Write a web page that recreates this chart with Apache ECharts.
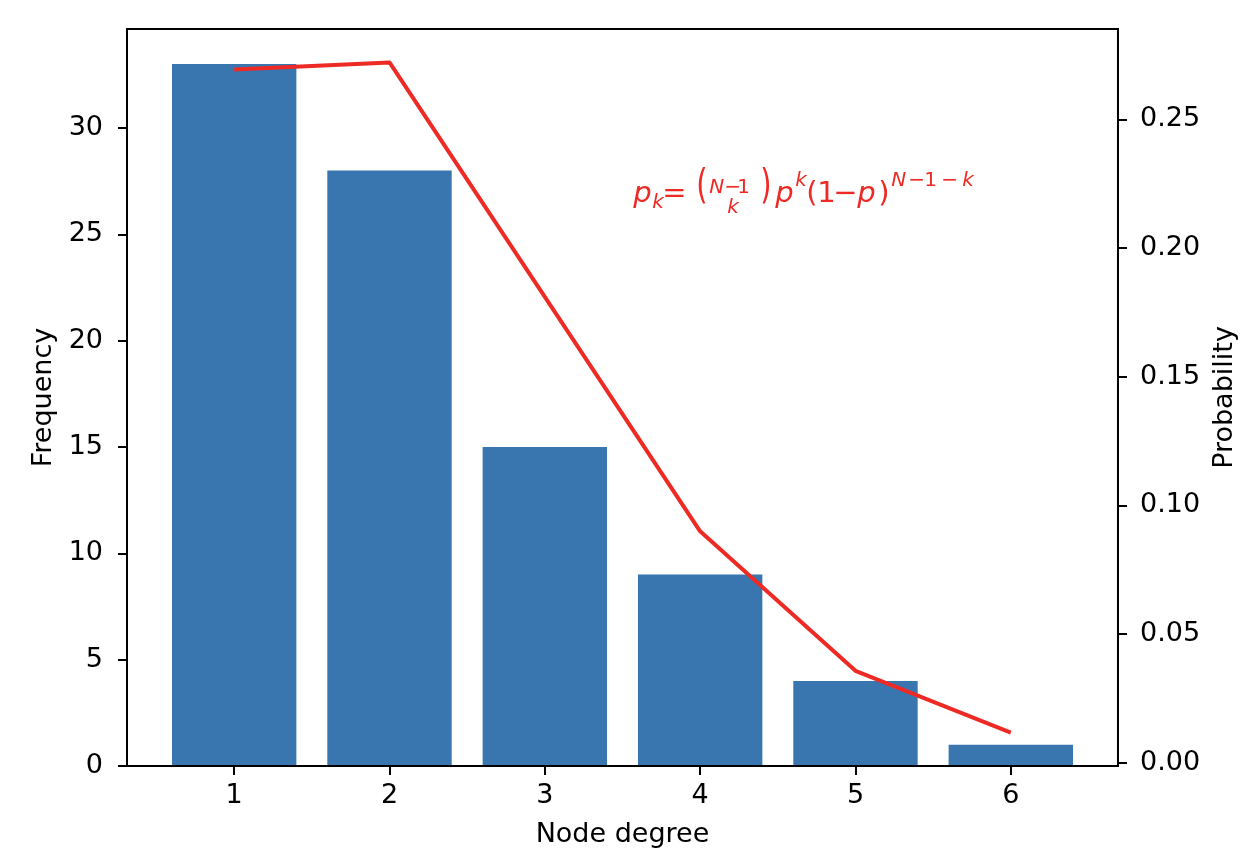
<!DOCTYPE html>
<html>
<head>
<meta charset="utf-8">
<script src="https://cdn.jsdelivr.net/npm/echarts@6.0.0/dist/echarts.min.js"></script>
<style>
  html, body { margin: 0; padding: 0; background: #fff; }
  #main { width: 1246px; height: 864px; }
</style>
</head>
<body>
<div id="main"></div>
<script>
// values
const degrees = [1, 2, 3, 4, 5, 6];
const frequency = [33, 28, 15, 9, 4, 1];
const probability = [0.2694, 0.2721, 0.181, 0.0899, 0.0357, 0.0117];
const degreeTicks = [1, 2, 3, 4, 5, 6];
const freqTicks = [0, 5, 10, 15, 20, 25, 30];
const probTicks = [0, 0.05, 0.10, 0.15, 0.20, 0.25];

const FONT = 'DejaVu Sans';
const BAR = '#3976af';
const RED = '#ee2a25';
const gridLeft = 127, gridRight = 127, gridTop = 29, gridBottom = 98;
const xMin = 0.31, xMax = 6.69;
const gridW = 1246 - gridLeft - gridRight;

const chart = echarts.init(document.getElementById('main'));

const tickStyle = { show: true, length: 9, lineStyle: { color: '#000', width: 2 } };
const labelStyle = { color: '#000', fontSize: 27, fontFamily: FONT };
const nameStyle = { color: '#000', fontSize: 27, fontFamily: FONT };

chart.setOption({
  animation: false,
  backgroundColor: '#fff',
  grid: {
    left: gridLeft, right: gridRight, top: gridTop, bottom: gridBottom,
    show: true, borderColor: '#000', borderWidth: 2, backgroundColor: 'transparent'
  },
  xAxis: {
    type: 'value', min: xMin, max: xMax, z: 5,
    name: 'Node degree', nameLocation: 'middle', nameGap: 55, nameTextStyle: nameStyle,
    axisLine: { show: true, lineStyle: { color: '#000', width: 2 } },
    axisTick: Object.assign({ customValues: degreeTicks }, tickStyle),
    axisLabel: Object.assign({ customValues: degreeTicks, margin: 16 }, labelStyle),
    splitLine: { show: false }
  },
  yAxis: [{
    type: 'value', min: 0, max: 34.65, position: 'left', z: 5,
    name: 'Frequency', nameLocation: 'middle', nameGap: 67, nameTextStyle: nameStyle,
    axisLine: { show: true, lineStyle: { color: '#000', width: 2 } },
    axisTick: Object.assign({ customValues: freqTicks }, tickStyle),
    axisLabel: Object.assign({ customValues: freqTicks, margin: 24 }, labelStyle),
    splitLine: { show: false }
  }, {
    type: 'value', min: -0.0013, max: 0.2851, position: 'right', z: 5,
    name: 'Probability', nameLocation: 'middle', nameGap: 92, nameTextStyle: nameStyle,
    axisLine: { show: true, lineStyle: { color: '#000', width: 2 } },
    axisTick: Object.assign({ customValues: probTicks }, tickStyle),
    axisLabel: Object.assign({
      customValues: probTicks, margin: 22,
      formatter: v => v.toFixed(2)
    }, labelStyle),
    splitLine: { show: false }
  }],
  series: [{
    type: 'bar',
    data: degrees.map((d, i) => [d, frequency[i]]),
    barWidth: 0.8 * gridW / (xMax - xMin),
    itemStyle: { color: BAR },
    z: 2
  }, {
    type: 'line',
    yAxisIndex: 1,
    data: degrees.map((d, i) => [d, probability[i]]),
    showSymbol: false,
    lineStyle: { color: RED, width: 4, join: 'round' },
    z: 3
  }]
});

// formula annotation, anchored in data coordinates on the probability axis
const anchor = chart.convertToPixel({ seriesIndex: 1 }, [3.57, 0.2175]);
const BIG = 29, SMALL = 20;
const pieces = [
  ['p', 0, 0, BIG, true], ['k', 19, 6, SMALL, true], ['=', 29, 0, BIG, false],
  ['(', 63, -7, BIG, false, 1.4],
  ['N', 76, -9, SMALL, true], ['\u2212', 91, -9, SMALL, false], ['1', 104, -9, SMALL, false],
  ['k', 94, 11, SMALL, true],
  [')', 127, -7, BIG, false, 1.4],
  ['p', 142, 0, BIG, true], ['k', 162, -16, SMALL, true],
  ['(', 173, 0, BIG, false], ['1', 184, 0, BIG, false], ['\u2212', 200, 0, BIG, false],
  ['p', 224, 0, BIG, true], [')', 245, 0, BIG, false],
  ['N', 258, -16, SMALL, true], ['\u2212', 275, -16, SMALL, false], ['1', 291, -16, SMALL, false],
  ['\u2212', 308, -16, SMALL, false], ['k', 329, -16, SMALL, true]
];
chart.setOption({
  graphic: pieces.map(([t, dx, db, size, it, sy]) => ({
    type: 'text',
    x: anchor[0] + dx,
    y: anchor[1] + db - 0.3 * size,
    scaleY: sy || 1,
    z: 10,
    style: {
      text: t, fill: RED,
      fontSize: size, fontFamily: FONT, fontStyle: it ? 'italic' : 'normal',
      align: 'left', verticalAlign: 'middle'
    }
  }))
});
</script>
</body>
</html>
